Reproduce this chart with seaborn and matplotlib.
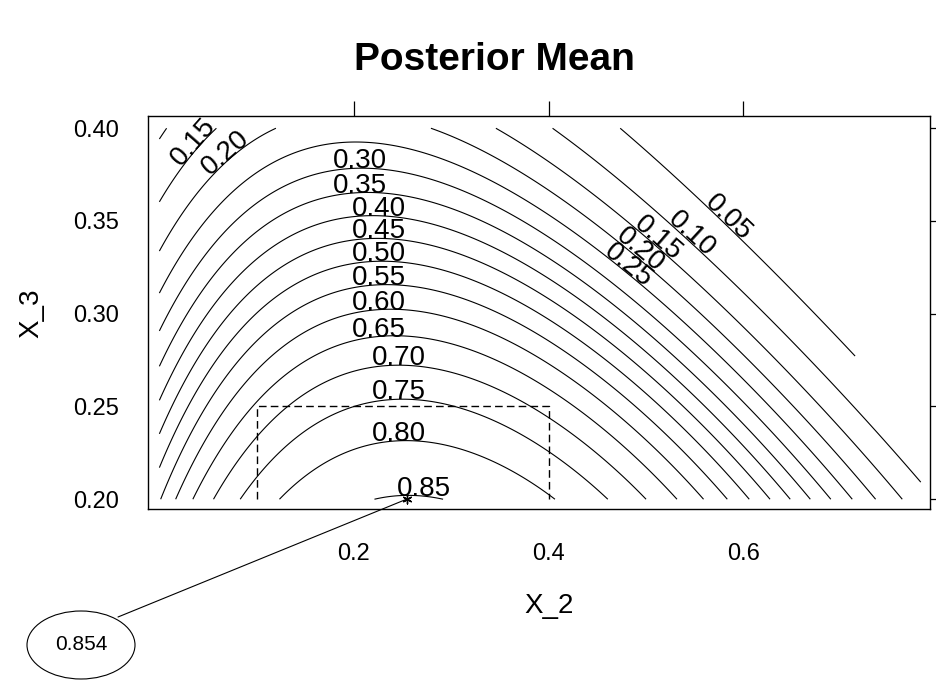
import numpy as np
import pandas as pd
import seaborn as sns
import matplotlib.pyplot as plt
from matplotlib.patches import Ellipse

# contour levels drawn in the chart
levels = [0.05, 0.10, 0.15, 0.20, 0.25, 0.30, 0.35, 0.40, 0.45,
          0.50, 0.55, 0.60, 0.65, 0.70, 0.75, 0.80, 0.85]

# where the contours meet the bottom edge (X_3 = 0.20)
bottom_x2 = [0.0, 0.018, 0.035, 0.057, 0.0845, 0.126, 0.218, 0.299, 0.403, 0.461, 0.501,
             0.532, 0.559, 0.583, 0.605, 0.628, 0.648, 0.671, 0.692, 0.712, 0.736, 0.762]
bottom_level = [0.55, 0.60, 0.65, 0.70, 0.75, 0.80, 0.85, 0.85, 0.80, 0.75, 0.70,
                0.65, 0.60, 0.55, 0.50, 0.45, 0.40, 0.35, 0.30, 0.25, 0.20, 0.15]
# left edge (X_2 = 0)
left_x3 = [0.395, 0.3603, 0.3325, 0.3109, 0.2907, 0.2722, 0.2545, 0.236, 0.2173]
left_level = [0.10, 0.15, 0.20, 0.25, 0.30, 0.35, 0.40, 0.45, 0.50]
# top edge (X_3 = 0.40)
top_x2 = [0.008, 0.056, 0.126, 0.279, 0.345, 0.4015, 0.470]
top_level = [0.10, 0.15, 0.20, 0.20, 0.15, 0.10, 0.05]
# crossings along X_2 = 0.148
col1_x3 = [0.388, 0.3729, 0.3576, 0.3441]
col1_level = [0.25, 0.30, 0.35, 0.40]
# crossings along X_2 = 0.35
col2_x3 = [0.3989, 0.3837, 0.3702, 0.3576, 0.3459, 0.3342, 0.3235,
           0.3118, 0.3001, 0.2866, 0.2713, 0.2570, 0.2399, 0.2174]
col2_level = [0.15, 0.20, 0.25, 0.30, 0.35, 0.40, 0.45,
              0.50, 0.55, 0.60, 0.65, 0.70, 0.75, 0.80]
# tops of the arched contours
apex_x2 = [0.22, 0.206, 0.206, 0.226, 0.226, 0.226, 0.226, 0.226, 0.226, 0.246, 0.246, 0.246, 0.272]
apex_x3 = [0.3924, 0.3789, 0.3667, 0.3523, 0.3414, 0.3288, 0.3163, 0.3028, 0.2875,
           0.2732, 0.2531, 0.2316, 0.2010]
apex_level = [0.25, 0.30, 0.35, 0.40, 0.45, 0.50, 0.55, 0.60, 0.65, 0.70, 0.75, 0.80, 0.85]
# outer contours on the right
tail_x2 = [0.5592, 0.6586, 0.7237, 0.7837]
tail_x3 = [0.3613, 0.3074, 0.2724, 0.2086]
tail_level = [0.05, 0.05, 0.05, 0.10]
# marked maximum
peak_x2 = 0.254
peak_x3 = 0.20
peak_value = 0.854
# dashed region
region_x2 = [0.1, 0.4]
region_x3 = [0.2, 0.25]

x_ticks = [0.2, 0.4, 0.6]
y_ticks = [0.20, 0.25, 0.30, 0.35, 0.40]

# label spots: level, x2, x3, flat
label_spots = [
    (0.15, 0.0386, 0.391, False), (0.20, 0.068, 0.3856, False),
    (0.05, 0.587, 0.353, False), (0.10, 0.548, 0.3435, False),
    (0.15, 0.5095, 0.3398, False), (0.20, 0.494, 0.3344, False),
    (0.25, 0.486, 0.328, False),
    (0.30, 0.206, 0.3789, True), (0.35, 0.206, 0.3667, True),
    (0.40, 0.226, 0.3523, True), (0.45, 0.226, 0.3414, True),
    (0.50, 0.226, 0.3288, True), (0.55, 0.226, 0.3163, True),
    (0.60, 0.226, 0.3028, True), (0.65, 0.226, 0.2875, True),
    (0.70, 0.246, 0.2732, True), (0.75, 0.246, 0.2531, True),
    (0.80, 0.246, 0.2316, True), (0.85, 0.272, 0.2010, True),
]


def read_points():
    parts = [
        pd.DataFrame({'x2': bottom_x2, 'x3': 0.2, 'z': bottom_level, 'w': 1.0}),
        pd.DataFrame({'x2': 0.0, 'x3': left_x3, 'z': left_level, 'w': 1.0}),
        pd.DataFrame({'x2': top_x2, 'x3': 0.4, 'z': top_level, 'w': 1.0}),
        pd.DataFrame({'x2': 0.148, 'x3': col1_x3, 'z': col1_level, 'w': 1.0}),
        pd.DataFrame({'x2': 0.35, 'x3': col2_x3, 'z': col2_level, 'w': 1.0}),
        pd.DataFrame({'x2': apex_x2, 'x3': apex_x3, 'z': apex_level, 'w': 1.0}),
        pd.DataFrame({'x2': tail_x2, 'x3': tail_x3, 'z': tail_level, 'w': 1.0}),
        pd.DataFrame({'x2': [peak_x2], 'x3': [peak_x3], 'z': [peak_value], 'w': 3.0}),
    ]
    return pd.concat(parts, ignore_index=True)


def design(a, b):
    s = (np.asarray(a) - 0.4) * 2.5
    t = (np.asarray(b) - 0.3) * 10
    return np.column_stack([np.ones_like(s), s, s ** 2, s ** 3, s ** 4,
                            t, t ** 2, s * t, s ** 2 * t, s ** 3 * t, s * t ** 2, s ** 2 * t ** 2])


def split_path(path):
    # one array of vertices per separate contour piece
    v, c = path.vertices, path.codes
    if c is None:
        return [v]
    starts = np.where(c == 1)[0]
    return [p for p in np.split(v, starts[1:]) if len(p) > 2]


# smooth surface through the contour crossings (logit scale)
pts = read_points()
target = np.log(pts['z'] / (1 - pts['z']))
A = design(pts['x2'], pts['x3']) * pts['w'].to_numpy()[:, None]
coef = np.linalg.lstsq(A, target * pts['w'], rcond=None)[0]

g2, g3 = np.meshgrid(np.linspace(0, 0.8, 321), np.linspace(0.2, 0.4, 161))
eta = design(g2.ravel(), g3.ravel()) @ coef
zz = (1 / (1 + np.exp(-eta))).reshape(g2.shape)
zz = np.ma.masked_where(g2 + g3 > 0.993, zz)

sns.set_style('white')
plt.rcParams['font.family'] = ['Liberation Sans', 'DejaVu Sans']
plt.rcParams['text.color'] = 'black'

fig = plt.figure(figsize=(9.36, 6.8), dpi=100)
ax = fig.add_axes([0.1578, 0.2522, 0.8358, 0.5772])

cs = ax.contour(g2, g3, zz, levels=levels, colors='black', linewidths=0.8)

# dashed region
sns.lineplot(x=[region_x2[0], region_x2[0], region_x2[1], region_x2[1]],
             y=[region_x3[0], region_x3[1], region_x3[1], region_x3[0]],
             sort=False, estimator=None, color='black', linewidth=1.0,
             linestyle=(0, (5.5, 3)), ax=ax)

ax.set_xlim(-0.012, 0.792)
ax.set_ylim(0.195, 0.4066)
ax.set_xticks(x_ticks)
ax.set_xticklabels(['0.2', '0.4', '0.6'])
ax.set_yticks(y_ticks)
ax.set_yticklabels(['0.20', '0.25', '0.30', '0.35', '0.40'])
ax.tick_params(direction='out', length=11, width=0.9, top=True, right=True,
               labeltop=False, labelright=False, labelsize=17, pad=10, colors='black')
ax.tick_params(axis='x', pad=13.5)
for sp in ax.spines.values():
    sp.set_color('black')
    sp.set_linewidth(1.0)
ax.set_xlabel('')
ax.set_ylabel('')

# contour labels
paths = cs.get_paths()
for lvl, lx, ly, flat in label_spots:
    i = levels.index(lvl)
    p = ax.transData.transform((lx, ly))
    best = None
    for poly in split_path(paths[i]):
        d = ax.transData.transform(poly)
        dist = np.hypot(d[:, 0] - p[0], d[:, 1] - p[1])
        j = dist.argmin()
        if best is None or dist[j] < best[0]:
            best = (dist[j], poly, d, j)
    if best is None:
        continue
    _, poly, d, j = best
    if flat:
        ang = 0.0
        tx, ty = lx, poly[j, 1]
    else:
        k0, k1 = max(j - 4, 0), min(j + 4, len(d) - 1)
        ang = np.degrees(np.arctan2(d[k1, 1] - d[k0, 1], d[k1, 0] - d[k0, 0]))
        if ang > 90:
            ang -= 180
        if ang < -90:
            ang += 180
        tx, ty = poly[j]
    ax.text(tx, ty, f'{lvl:.2f}', rotation=ang, rotation_mode='anchor',
            ha='center', va='baseline', fontsize=20, color='black')

# maximum marker and its callout
sns.scatterplot(x=[peak_x2], y=[peak_x3], marker=(6, 2, 0), s=40, color='black',
                linewidth=1.0, ax=ax, zorder=5, clip_on=False)
ax.annotate('', xy=(peak_x2, peak_x3), xycoords='data',
            xytext=(118, 680 - 617), textcoords='figure pixels',
            arrowprops=dict(arrowstyle='-', color='black', lw=0.8, shrinkA=0, shrinkB=0),
            annotation_clip=False)
fig.add_artist(Ellipse((81 / 936, 1 - 645 / 680), 108 / 936, 68 / 680,
                       transform=fig.transFigure, fill=False, ec='black', lw=0.8))
fig.text(81 / 936, 1 - 645 / 680, f'{peak_value:.3f}', ha='center', va='center', fontsize=15)

fig.text(494 / 936, 1 - 70 / 680, 'Posterior Mean', ha='center', va='baseline',
         fontsize=28, fontweight='bold', color='black')
fig.text(549 / 936, 1 - 606 / 680, 'X_2', ha='center', va='center', fontsize=20)
fig.text(31 / 936, 1 - 313 / 680, 'X_3', ha='center', va='center', fontsize=20, rotation=90)

fig.savefig('out.png', dpi=100)
